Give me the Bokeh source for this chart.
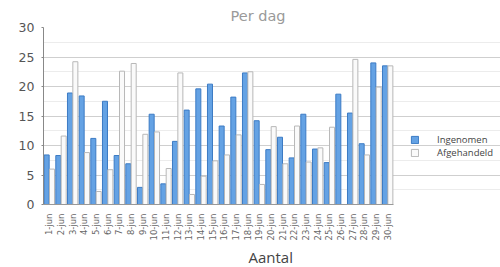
from bokeh.plotting import figure
from bokeh.models import Range1d, Legend, LegendItem, Title, SingleIntervalTicker, FixedTicker
from bokeh.transform import dodge
from bokeh.embed import file_html
from bokeh.resources import INLINE
import math

days = [f"{i}-jun" for i in range(1, 31)]
ingenomen = [8.4, 8.3, 18.9, 18.4, 11.2, 17.5, 8.3, 6.9, 2.9, 15.3,
             3.5, 10.7, 16.0, 19.6, 20.4, 13.3, 18.2, 22.3, 14.2, 9.3,
             11.4, 7.9, 15.3, 9.4, 7.1, 18.7, 15.5, 10.3, 24.0, 23.5]
afgehandeld = [6.0, 11.6, 24.2, 8.8, 2.2, 5.9, 22.6, 23.9, 11.9, 12.3,
               6.1, 22.3, 1.7, 4.8, 7.4, 8.4, 11.8, 22.5, 3.4, 13.2,
               6.9, 13.3, 7.2, 9.6, 13.1, 0.0, 24.6, 8.4, 19.9, 23.5]
series_names = ["Ingenomen", "Afgehandeld"]
title_text = "Per dag"
x_title = "Aantal"

FONT = "DejaVu Sans"
FONT2 = "Open Sans"

n = len(days)
pos = list(range(1, n + 1))
# frame also hosts the legend on its right: extend range beyond the last day
x_end = n + 0.5 + 9.17

p = figure(width=500, height=267, x_range=Range1d(0.5, x_end), y_range=Range1d(0, 30),
           output_backend="svg", toolbar_location=None,
           min_border_left=43, min_border_right=0, min_border_top=27,
           min_border_bottom=62, background_fill_color="white",
           border_fill_color="white", outline_line_color=None)

src = dict(x=pos, a=ingenomen, b=afgehandeld)
r1 = p.vbar(x=dodge("x", -0.23), top="a", width=0.43,
            source=src, fill_color="#64a2e4", line_color="#3c7bc4", line_width=1)
r2 = p.vbar(x=dodge("x", 0.23), top="b", width=0.43,
            source=src, fill_color="#fafafa", line_color="#b8b8b8", line_width=1)

t = Title(text=title_text, align="left", offset=187, text_font=FONT,
          text_font_size="14.5px", text_color="#9a9a9a", text_font_style="normal",
          vertical_align="top", standoff=4)
p.add_layout(t, "above")

xt = Title(text=x_title, align="left", offset=205, text_font=FONT2,
           text_font_size="15px", text_color="#444444", text_font_style="normal",
           standoff=2)
p.add_layout(xt, "below")

p.yaxis.ticker = SingleIntervalTicker(interval=5, num_minor_ticks=2)
p.yaxis.major_label_text_font = FONT
p.yaxis.major_label_text_font_size = "12.5px"
p.yaxis.major_label_text_color = "#555555"
p.yaxis.axis_line_color = "#888888"
p.yaxis.major_tick_line_color = "#888888"
p.yaxis.major_tick_out = 2
p.yaxis.major_tick_in = 0
p.yaxis.minor_tick_line_color = None
p.yaxis.major_label_standoff = 5

p.xaxis.ticker = FixedTicker(ticks=pos)
p.xaxis.major_label_overrides = {k: d for k, d in zip(pos, days)}
p.xaxis.bounds = (0.5, n + 0.5)
p.xaxis.major_label_orientation = math.pi / 2
p.xaxis.major_label_text_font = FONT
p.xaxis.major_label_text_font_size = "8.5px"
p.xaxis.major_label_text_color = "#666666"
p.xaxis.axis_line_color = "#999999"
p.xaxis.major_tick_line_color = None
p.xaxis.minor_tick_line_color = None
p.xaxis.major_label_standoff = 3

p.xgrid.grid_line_color = None
p.ygrid.bounds = (0.5, n + 0.5)
p.ygrid.grid_line_color = "#cfcfcf"
p.ygrid.minor_grid_line_color = "#ececec"

legend = Legend(items=[LegendItem(label=series_names[0], renderers=[r1]),
                       LegendItem(label=series_names[1], renderers=[r2])],
                location=(367, 45), glyph_width=9, glyph_height=9,
                label_standoff=18, spacing=0, padding=0, margin=0,
                border_line_color=None, background_fill_alpha=0,
                label_text_font=FONT2, label_text_font_size="9.5px",
                label_text_color="#444444", label_height=10)
p.add_layout(legend)

open("out.html", "w").write(file_html(p, INLINE))
